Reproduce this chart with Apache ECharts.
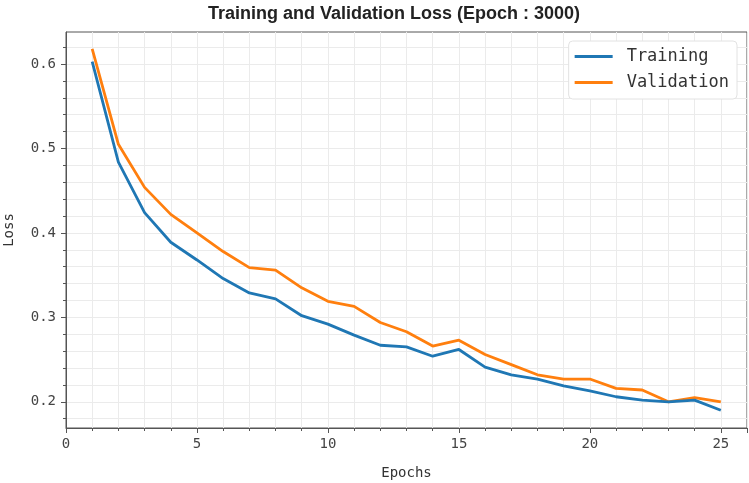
<!DOCTYPE html>
<html>
<head>
<meta charset="utf-8">
<title>Training and Validation Loss</title>
<script src="https://cdn.jsdelivr.net/npm/echarts@6.0.0/dist/echarts.min.js"></script>
<style>
  html, body { margin: 0; padding: 0; background: #fff; }
  #chart { width: 749px; height: 483px; }
</style>
</head>
<body>
<div id="chart"></div>
<script>
// 数据
const epochs = [1, 2, 3, 4, 5, 6, 7, 8, 9, 10, 11, 12, 13, 14, 15, 16, 17, 18, 19, 20, 21, 22, 23, 24, 25];
const trainLoss = [0.603, 0.484, 0.424, 0.389, 0.368, 0.346, 0.329, 0.322, 0.302, 0.292, 0.279, 0.267, 0.265, 0.254, 0.262,
                   0.241, 0.232, 0.227, 0.219, 0.213, 0.206, 0.202, 0.200, 0.202, 0.190];
const valLoss = [0.618, 0.505, 0.454, 0.422, 0.400, 0.378, 0.359, 0.356, 0.335, 0.319, 0.313, 0.294, 0.283, 0.266, 0.273,
                 0.256, 0.244, 0.232, 0.227, 0.227, 0.216, 0.214, 0.200, 0.205, 0.200];
const yMajorTicks = [0.2, 0.3, 0.4, 0.5, 0.6];
const yMinorTicks = [0.18, 0.2, 0.22, 0.24, 0.26, 0.28, 0.3, 0.32, 0.34, 0.36, 0.38, 0.4, 0.42, 0.44, 0.46, 0.48,
                     0.5, 0.52, 0.54, 0.56, 0.58, 0.6, 0.62];

const MONO = '"DejaVu Sans Mono", monospace';
const gridColor = '#ebebeb';
const axisColor = '#555';

function pairs(ys) {
    return epochs.map(function(e, i) { return [e, ys[i]]; });
}

const chart = echarts.init(document.getElementById('chart'));

chart.setOption({
    animation: false,
    title: {
        text: 'Training and Validation Loss (Epoch : 3000)',
        left: 203,
        top: 0,
        textStyle: { fontFamily: '"Liberation Sans", Arial, sans-serif', fontSize: 18, fontWeight: 'bold', color: '#222' }
    },
    legend: {
        orient: 'vertical',
        right: 12,
        top: 41,
        padding: [7, 8, 8, 6],
        itemGap: 9,
        itemWidth: 38,
        itemHeight: 3,
        icon: 'rect',
        backgroundColor: '#fff',
        borderColor: '#e2e2e2',
        borderWidth: 1,
        borderRadius: 4,
        textStyle: { fontFamily: MONO, fontSize: 17, color: '#333', padding: [0, 0, 0, 9] },
        data: ['Training', 'Validation']
    },
    grid: {
        left: 66, right: 2, top: 32, bottom: 55,
        outerBoundsMode: 'none',
        containLabel: false,
        show: true,
        borderColor: axisColor,
        borderWidth: 1
    },
    xAxis: {
        type: 'value',
        min: 0,
        max: 26,
        interval: 5,
        name: 'Epochs',
        nameLocation: 'middle',
        nameGap: 38,
        nameTextStyle: { fontFamily: MONO, fontSize: 14, color: '#333' },
        axisLine: { show: true, lineStyle: { color: axisColor, width: 1 } },
        axisTick: { show: true, inside: false, length: 5, lineStyle: { color: axisColor } },
        minorTick: { show: true, splitNumber: 5, length: 3, lineStyle: { color: axisColor } },
        axisLabel: { fontFamily: MONO, fontSize: 14, color: '#444', margin: 9, showMaxLabel: false },
        splitLine: { show: true, lineStyle: { color: gridColor, width: 1 } },
        minorSplitLine: { show: true, lineStyle: { color: gridColor, width: 1 } }
    },
    yAxis: [{
        type: 'value',
        min: 0.169,
        max: 0.638,
        name: 'Loss',
        nameLocation: 'middle',
        nameGap: 50,
        nameTextStyle: { fontFamily: MONO, fontSize: 14, color: '#333' },
        axisLine: { show: true, lineStyle: { color: axisColor, width: 1 } },
        axisTick: { show: true, inside: false, length: 5, customValues: yMajorTicks, lineStyle: { color: axisColor } },
        axisLabel: {
            fontFamily: MONO, fontSize: 14, color: '#444', margin: 10,
            customValues: yMajorTicks,
            formatter: function(v) { return v.toFixed(1); }
        },
        splitLine: { show: true, lineStyle: { color: gridColor, width: 1 } }
    }, {
        // 次刻度与次网格线
        type: 'value',
        position: 'left',
        min: 0.169,
        max: 0.638,
        axisLine: { show: false },
        axisTick: { show: true, inside: false, length: 3, customValues: yMinorTicks, lineStyle: { color: axisColor } },
        axisLabel: { show: false },
        splitLine: { show: true, lineStyle: { color: gridColor, width: 1 } }
    }],
    series: [{
        name: 'Training',
        type: 'line',
        yAxisIndex: 0,
        data: pairs(trainLoss),
        symbol: 'none',
        lineStyle: { color: '#1f77b4', width: 2.8 },
        itemStyle: { color: '#1f77b4' },
        z: 3
    }, {
        name: 'Validation',
        type: 'line',
        yAxisIndex: 0,
        data: pairs(valLoss),
        symbol: 'none',
        lineStyle: { color: '#ff7f0e', width: 2.8 },
        itemStyle: { color: '#ff7f0e' },
        z: 2
    }]
});
</script>
</body>
</html>
